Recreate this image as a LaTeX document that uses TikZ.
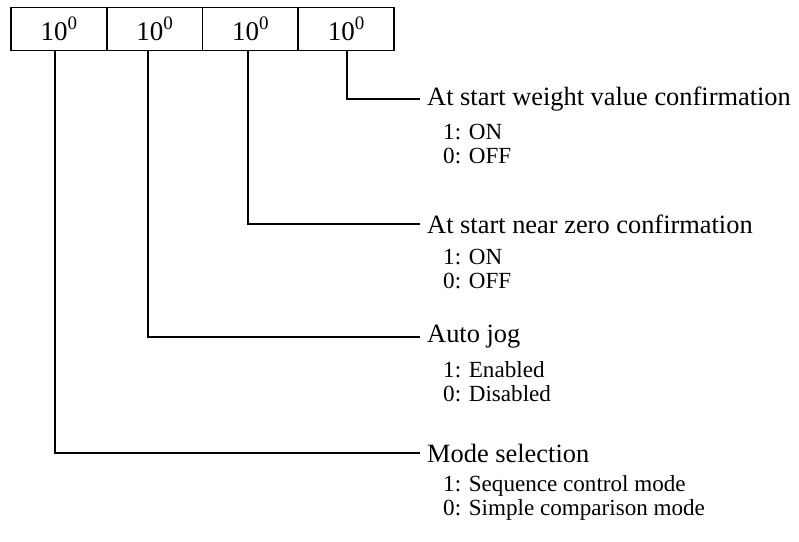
\documentclass[tikz,border=0pt]{standalone}
\usepackage{fontspec}
\setmainfont{Liberation Serif}
\newcommand{\tenzero}{10\raisebox{0.42em}{\fontsize{19}{20}\selectfont 0}}
\begin{document}
\begin{tikzpicture}[x=1pt,y=-1pt,
  cell/.style={draw,line width=1.6pt,minimum width=95.75pt,minimum height=43pt,inner sep=0pt,font=\fontsize{27}{30}\selectfont},
  lab/.style={anchor=west,inner xsep=7pt,inner ysep=0pt,font=\fontsize{26.4}{30}\selectfont},
  sub/.style={anchor=west,inner sep=0pt,align=left,font=\fontsize{23.1}{24}\selectfont},
  conn/.style={line width=1.6pt}]
\useasboundingbox (0,0) rectangle (799,541);
\node[cell] (c1) at (58.9,29) {\tenzero};
\node[cell] (c2) at (154.6,29) {\tenzero};
\node[cell] (c3) at (250.4,29) {\tenzero};
\node[cell] (c4) at (346.1,29) {\tenzero};
\node[lab] (l4) at (420,99) {At start weight value confirmation};
\node[lab] (l3) at (420,224) {At start near zero confirmation};
\node[lab] (l2) at (420,337) {Auto jog};
\node[lab] (l1) at (420,453) {Mode selection};
\node[sub] (s4) at (443,144) {1: ON\\0: OFF};
\node[sub] (s3) at (443,269) {1: ON\\0: OFF};
\node[sub] (s2) at (443,382) {1: Enabled\\0: Disabled};
\node[sub] (s1) at (443,498) {1: Sequence control mode\\0: Simple comparison mode};
\coordinate (t1) at (55,50.5);
\coordinate (t2) at (148,50.5);
\coordinate (t3) at (248,50.5);
\coordinate (t4) at (347,50.5);
\draw[conn] (t1) |- (l1.west);
\draw[conn] (t2) |- (l2.west);
\draw[conn] (t3) |- (l3.west);
\draw[conn] (t4) |- (l4.west);
\end{tikzpicture}
\end{document}
